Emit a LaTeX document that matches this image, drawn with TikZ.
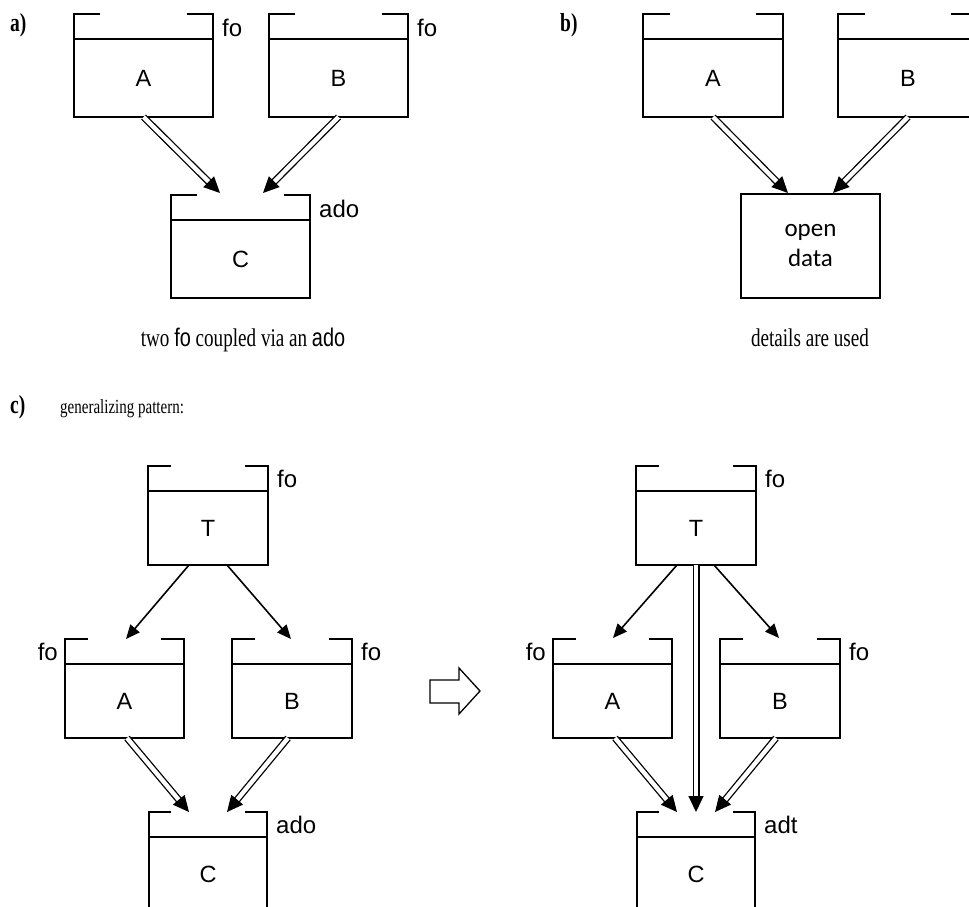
\documentclass[tikz,border=0pt]{standalone}
\usepackage{fontspec}
\setmainfont{Liberation Serif}
\newfontfamily\arialfont{Liberation Sans}
\newfontfamily\calfont{Carlito}
\newfontfamily\condserif[FakeStretch=0.75]{Liberation Serif}
\newfontfamily\condsans[FakeStretch=0.78]{Liberation Sans}
\usetikzlibrary{arrows.meta}

% a box with an open lid: body plus a lid strip whose top edge has a gap
% #1 name, #2 left, #3 right, #4 lid top, #5 bottom, #6 lid corner length, #7 text
\newcommand\lidbox[7]{%
  \draw[boxline] (#2+#6,#4) -- (#2,#4) -- (#2,#5) -- (#3,#5) -- (#3,#4) -- (#3-#6,#4);
  \draw[boxline] (#2,#4+25) -- (#3,#4+25);
  \node[boxtext] (#1) at ({(#2+#3)/2},{(#4+25+#5)/2}) {#7};
}

\tikzset{
  boxline/.style={line width=1.8pt, line join=miter},
  boxtext/.style={font=\arialfont\fontsize{23.5}{26}\selectfont, inner sep=0pt},
  tag/.style={font=\arialfont\fontsize{24}{26}\selectfont, inner sep=0pt},
  partlabel/.style={font=\condserif\bfseries\fontsize{26}{28}\selectfont, inner sep=0pt, anchor=base west},
  caption/.style={font=\condserif\fontsize{25.5}{28}\selectfont, inner sep=0pt, anchor=base},
  dbl/.style={double, double distance=4.4pt, line width=1.3pt,
    -{Triangle[length=16pt,width=15pt]}},
  sgl/.style={line width=1.6pt, -{Triangle[length=14pt,width=12pt]}},
}

\begin{document}
\begin{tikzpicture}[x=1pt,y=-1pt]
\clip (0,0) rectangle (969,906);

% ---------- a) two fo coupled via an ado ----------
\node[partlabel] (la) at (10,31) {a)};
\lidbox{aA}{74}{213}{14}{117}{26}{A}
\lidbox{aB}{269}{408}{14}{117}{26}{B}
\lidbox{aC}{171}{310}{195}{298}{26}{C}
\node[tag, anchor=west] (aAfo) at (222,27.5) {fo};
\node[tag, anchor=west] (aBfo) at (417,27.5) {fo};
\node[tag, anchor=west] (aCado) at (319,209) {ado};
\coordinate (aAout) at (143.5,117);
\coordinate (aBout) at (338.5,117);
\coordinate (aCinL) at (220,193);
\coordinate (aCinR) at (263,193);
\draw[dbl] (aAout) -- (aCinL);
\draw[dbl] (aBout) -- (aCinR);
\node[caption] (capa) at (243,346) {two {\condsans fo} coupled via an {\condsans ado}};

% ---------- b) details are used ----------
\node[partlabel] (lb) at (560,31) {b)};
\lidbox{bA}{643}{783}{14}{117}{27}{A}
\lidbox{bB}{838}{978}{14}{117}{27}{B}
\node[boxline, draw, minimum width=139pt, minimum height=104pt, inner sep=0pt,
  align=center, font=\calfont\fontsize{25}{30}\selectfont] (od) at (810.5,246) {open\\data};
\coordinate (bAout) at (713,117);
\coordinate (bBout) at (908,117);
\coordinate (odinL) at (788,193);
\coordinate (odinR) at (833,193);
\draw[dbl] (bAout) -- (odinL);
\draw[dbl] (bBout) -- (odinR);
\node[caption] (capb) at (810,346) {details are used};

% ---------- c) generalizing pattern ----------
\node[partlabel] (lc) at (10,413) {c)};
\node[font=\condserif\fontsize{20}{22}\selectfont, inner sep=0pt, anchor=base west] (gp) at (60,413) {generalizing pattern:};

% left pattern
\lidbox{cT}{148}{268}{466}{565}{23}{T}
\lidbox{cA}{65}{184}{639}{738}{23}{A}
\lidbox{cB}{232}{352}{639}{738}{23}{B}
\lidbox{cC}{149}{267}{812}{911}{22}{C}
\node[tag, anchor=west] (cTfo) at (277,479) {fo};
\node[tag, anchor=east] (cAfo) at (58,652) {fo};
\node[tag, anchor=west] (cBfo) at (361,652) {fo};
\node[tag, anchor=west] (cCado) at (276,825) {ado};
\coordinate (cToutL) at (189,565);
\coordinate (cToutR) at (227,565);
\coordinate (cAin) at (126,639);
\coordinate (cBin) at (291,639);
\coordinate (cAout) at (127,738);
\coordinate (cBout) at (288,738);
\coordinate (cCinL) at (189,812);
\coordinate (cCinR) at (227,812);
\draw[sgl] (cToutL) -- (cAin);
\draw[sgl] (cToutR) -- (cBin);
\draw[dbl] (cAout) -- (cCinL);
\draw[dbl] (cBout) -- (cCinR);

% transition arrow
\draw[line width=1.3pt, line join=miter] (430,680) -- (459,680) -- (459,668) -- (480,691)
  -- (459,714) -- (459,703) -- (430,703) -- cycle;
\coordinate (trans) at (458,691);

% right pattern
\lidbox{dT}{636}{756}{466}{565}{23}{T}
\lidbox{dA}{553}{672}{639}{738}{23}{A}
\lidbox{dB}{720}{840}{639}{738}{23}{B}
\lidbox{dC}{637}{755}{812}{911}{22}{C}
\node[tag, anchor=west] (dTfo) at (765,479) {fo};
\node[tag, anchor=east] (dAfo) at (546,652) {fo};
\node[tag, anchor=west] (dBfo) at (849,652) {fo};
\node[tag, anchor=west] (dCadt) at (764,825) {adt};
\coordinate (dToutL) at (677,565);
\coordinate (dToutM) at (696,565);
\coordinate (dToutR) at (714,565);
\coordinate (dAin) at (613,638);
\coordinate (dBin) at (779,638);
\coordinate (dAout) at (615,738);
\coordinate (dBout) at (776,738);
\coordinate (dCinL) at (677,812);
\coordinate (dCinM) at (696,812);
\coordinate (dCinR) at (715,812);
\draw[sgl] (dToutL) -- (dAin);
\draw[sgl] (dToutR) -- (dBin);
\draw[dbl] (dToutM) -- (dCinM);
\draw[dbl] (dAout) -- (dCinL);
\draw[dbl] (dBout) -- (dCinR);
\end{tikzpicture}
\end{document}
